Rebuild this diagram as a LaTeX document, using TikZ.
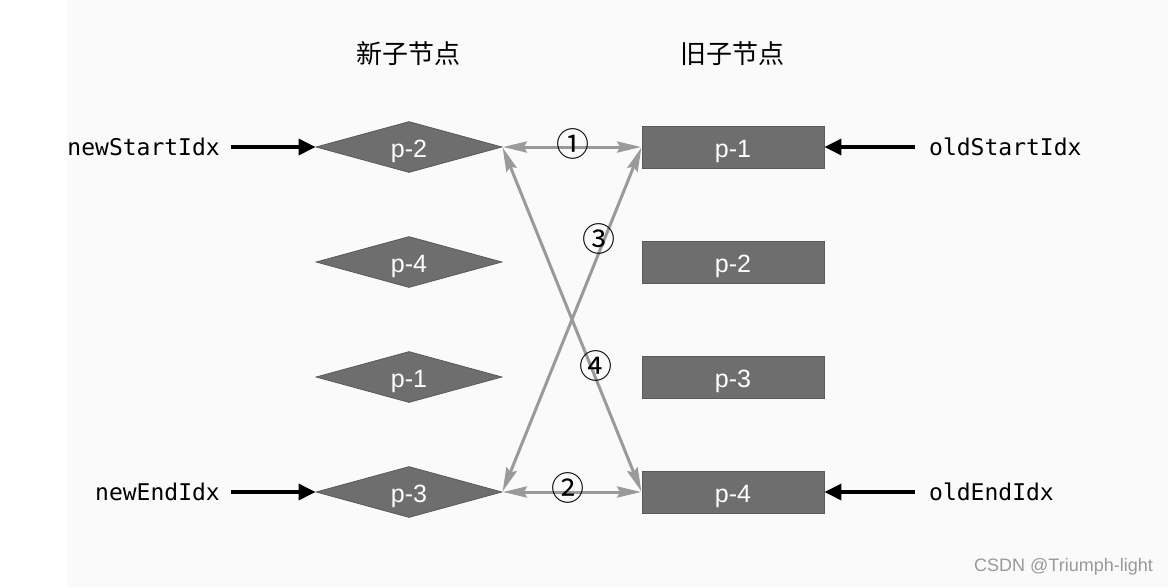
\documentclass[tikz,border=0pt]{standalone}
\usepackage{fontspec}
\setmainfont{Liberation Sans}
\newfontfamily\monof{DejaVu Sans Mono}
\newfontfamily\cjkf{Noto Sans CJK SC}
\usetikzlibrary{shapes.geometric,arrows.meta}
\definecolor{nodefill}{HTML}{6E6E6E}
\definecolor{nodeline}{HTML}{5A5A5A}
\definecolor{linkgray}{HTML}{9A9A9A}
\definecolor{bgray}{HTML}{FAFAFA}
\tikzset{
  newnode/.style={diamond, shape aspect=3.5, minimum width=186pt, minimum height=51pt, inner sep=0pt,
    text height=20pt, text depth=0pt,
    fill=nodefill, draw=nodeline, line width=0.8pt, text=white, font=\fontsize{25}{25}\selectfont},
  oldnode/.style={rectangle, minimum width=182pt, minimum height=42pt, inner sep=0pt,
    text height=20pt, text depth=0pt,
    fill=nodefill, draw=nodeline, line width=0.8pt, text=white, font=\fontsize{25}{25}\selectfont},
  idxlabel/.style={font=\monof\fontsize{23}{23}\selectfont, inner sep=0pt},
  title/.style={font=\cjkf\fontsize{26}{26}\selectfont, inner sep=0pt},
  numlabel/.style={font=\cjkf\fontsize{33}{33}\selectfont, inner sep=0pt},
  barrow/.style={-{Triangle[length=17pt,width=16pt]}, line width=3.2pt, black},
  garrow/.style={{Stealth[length=24pt,width=11pt,inset=3pt]}-{Stealth[length=24pt,width=11pt,inset=3pt]}, line width=3pt, linkgray, shorten <=0.5pt, shorten >=0.5pt},
}
\begin{document}
\begin{tikzpicture}[x=1pt,y=-1pt]
\useasboundingbox (0,0) rectangle (1168,587);
\fill[bgray] (67,0) rectangle (1168,587);

\node[title] (tnew) at (408,54) {新子节点};
\node[title] (told) at (732,54) {旧子节点};

\node[newnode] (n2) at (409,147) {p-2};
\node[newnode] (n4) at (409,262) {p-4};
\node[newnode] (n1) at (409,377) {p-1};
\node[newnode] (n3) at (409,492) {p-3};

\node[oldnode] (o1) at (733,147) {p-1};
\node[oldnode] (o2) at (733,262) {p-2};
\node[oldnode] (o3) at (733,377) {p-3};
\node[oldnode] (o4) at (733,492) {p-4};

\node[idxlabel, anchor=east] (nsi) at (220,147) {newStartIdx};
\node[idxlabel, anchor=east] (nei) at (220,492) {newEndIdx};
\node[idxlabel, anchor=west] (osi) at (929,147) {oldStartIdx};
\node[idxlabel, anchor=west] (oei) at (929,492) {oldEndIdx};

\draw[barrow] ([xshift=11pt]nsi.east) -- (n2.west);
\draw[barrow] ([xshift=11pt]nei.east) -- (n3.west);
\draw[barrow] ([xshift=-14pt]osi.west) -- (o1.east);
\draw[barrow] ([xshift=-14pt]oei.west) -- (o4.east);

\draw[garrow] (n2.east) -- (o1.west);
\draw[garrow] (n3.east) -- (o4.west);
\draw[garrow] (o1.west) -- (n3.east);
\draw[garrow] (n2.east) -- (o4.west);

\node[numlabel] (c1) at (573,144) {①};
\node[numlabel] (c2) at (568,488) {②};
\node[numlabel] (c3) at (599,239) {③};
\node[numlabel] (c4) at (596,366) {④};

\node[font=\fontsize{18}{18}\selectfont, text=gray!80, anchor=east, inner sep=0pt] (wm) at (1153,567) {CSDN @Triumph-light};
\end{tikzpicture}
\end{document}
